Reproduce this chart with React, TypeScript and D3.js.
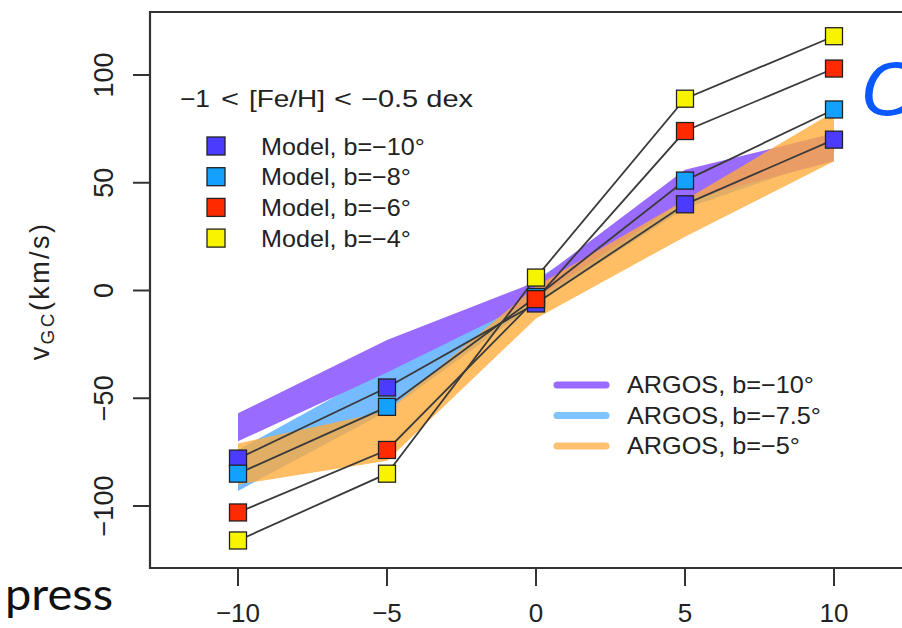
import React from "react";
import * as d3 from "d3";

const xValues = [-10, -5, 0, 5, 10];
const xTicks = [-10, -5, 0, 5, 10];
const yTicks = [-100, -50, 0, 50, 100];

const modelNames = ["Model, b=\u221210\u00b0", "Model, b=\u22128\u00b0", "Model, b=\u22126\u00b0", "Model, b=\u22124\u00b0"];
const modelColors = ["#4b3bff", "#14a0ff", "#ff2a00", "#f8f400"];
const modelB10 = [-78, -45, -6, 40, 70];
const modelB8 = [-85, -54, -3, 51, 84];
const modelB6 = [-103, -74, -4, 74, 103];
const modelB4 = [-116, -85, 6, 89, 118];
const modelSeries = [modelB10, modelB8, modelB6, modelB4];

const argosNames = ["ARGOS, b=\u221210\u00b0", "ARGOS, b=\u22127.5\u00b0", "ARGOS, b=\u22125\u00b0"];
const argosColors = ["#9a6bff", "#74bcff", "#ffaa38"];
const argosLegendColors = ["#9a6bff", "#80c4ff", "#ffc070"];
const argosB10Upper = [-57, -23, 4, 56, 73];
const argosB10Lower = [-70, -38, -4, 42, 60];
const argosB75Upper = [-74, -36, 5, 50, 72];
const argosB75Lower = [-93, -56, -6, 38, 62];
const argosB5Upper = [-71, -56, 2, 42, 83];
const argosB5Lower = [-90, -79, -13, 25, 60];
const argosUpper = [argosB10Upper, argosB75Upper, argosB5Upper];
const argosLower = [argosB10Lower, argosB75Lower, argosB5Lower];
const argosOpacity = [1, 1, 0.78];
const drawOrder = [1, 0, 2];

const titleParts = ["\u22121", "<", "[Fe/H]", "<", "\u22120.5 dex"];

export default function App() {
  const W = 902, H = 628;
  const x = d3.scaleLinear().domain([-10, 10]).range([238, 834]);
  const y = d3.scaleLinear().domain([-100, 100]).range([506, 75]);
  const frame = { left: 150, top: 12, bottom: 568, right: 912 };
  const font = "'Liberation Sans', Arial, Helvetica, sans-serif";
  const fmt = (v: number) => (v < 0 ? "\u2212" + Math.abs(v) : String(v));

  const bands = drawOrder.map((i) => {
    const pts = xValues.map((xv, k) => ({ x: xv, lo: argosLower[i][k], hi: argosUpper[i][k] }));
    const area = d3.area<{ x: number; lo: number; hi: number }>()
      .x((d) => x(d.x)).y0((d) => y(d.lo)).y1((d) => y(d.hi));
    return <path key={"band" + i} d={area(pts) || ""} fill={argosColors[i]} fillOpacity={argosOpacity[i]} stroke="none" />;
  });

  const line = d3.line<number>().x((_, k) => x(xValues[k])).y((d) => y(d));
  const sq = 17;
  const titleX = [180, 221, 249, 334, 361];
  const titleW = [30, 18, 76, 18, 112];

  return (
    <svg width={W} height={H} style={{ position: "absolute", left: 0, top: 0, background: "#fff" }} fontFamily={font}>
      <rect x={0} y={0} width={W} height={H} fill="#fff" />
      {bands}
      {modelSeries.map((s, i) => (
        <path key={"l" + i} d={line(s) || ""} fill="none" stroke="#3a3a3a" strokeWidth={1.8} />
      ))}
      {modelSeries.map((s, i) =>
        s.map((v, k) => (
          <rect key={"m" + i + "-" + k} x={x(xValues[k]) - sq / 2} y={y(v) - sq / 2} width={sq} height={sq}
            fill={modelColors[i]} stroke="#222" strokeWidth={1.3} />
        ))
      )}
      {/* frame */}
      <path d={`M${frame.right},${frame.top} H${frame.left} V${frame.bottom} H${frame.right}`} fill="none" stroke="#333" strokeWidth={2.2} />
      {/* y axis ticks */}
      {yTicks.map((t) => (
        <g key={"yt" + t}>
          <line x1={133} x2={frame.left} y1={y(t)} y2={y(t)} stroke="#333" strokeWidth={2} />
          <text transform={`translate(113,${y(t)}) rotate(-90)`} textAnchor="middle" fontSize={27} fill="#222">{fmt(t)}</text>
        </g>
      ))}
      {/* x axis ticks */}
      {xTicks.map((t) => (
        <g key={"xt" + t}>
          <line x1={x(t)} x2={x(t)} y1={frame.bottom} y2={586} stroke="#333" strokeWidth={2} />
          <text x={x(t)} y={622} textAnchor="middle" fontSize={26} fill="#222">{fmt(t)}</text>
        </g>
      ))}
      {/* y axis title */}
      <text transform="translate(49,291) rotate(-90)" textAnchor="middle" fontSize={27} fill="#222" letterSpacing={2.4}>
        v<tspan fontSize={19} dy={5}>GC</tspan><tspan dy={-5}>(km/s)</tspan>
      </text>
      {/* legend title */}
      <text y={107} fontSize={24} fill="#222">
        {titleParts.map((p, i) => (
          <tspan key={"tp" + i} x={titleX[i]} textLength={titleW[i]} lengthAdjust="spacingAndGlyphs">{p}</tspan>
        ))}
      </text>
      {/* model legend */}
      {modelNames.map((n, i) => {
        const cy = 146 + i * 30.7;
        return (
          <g key={"ml" + i}>
            <rect x={216 - 9} y={cy - 9} width={18} height={18} fill={modelColors[i]} stroke="#222" strokeWidth={1.3} />
            <text transform={`translate(261,${cy + 8.5}) scale(1.07,1)`} fontSize={23.5} fill="#222">{n}</text>
          </g>
        );
      })}
      {/* argos legend */}
      {argosNames.map((n, i) => {
        const cy = 385 + i * 30.5;
        return (
          <g key={"al" + i}>
            <line x1={557} x2={606} y1={cy} y2={cy} stroke={argosLegendColors[i]} strokeWidth={7} strokeLinecap="round" />
            <text transform={`translate(627,${cy + 8}) scale(1.075,1)`} fontSize={23.5} fill="#222">{n}</text>
          </g>
        );
      })}
      {/* slide fragments */}
      <text x={5} y={610} fontSize={44} fontFamily="Lato, 'Open Sans', sans-serif" fill="#111" textLength={108} lengthAdjust="spacingAndGlyphs">press</text>
      <text x={862} y={115} fontSize={72} fontStyle="italic" fontFamily="'DejaVu Sans', sans-serif" fill="#0a58ff">C</text>
    </svg>
  );
}
